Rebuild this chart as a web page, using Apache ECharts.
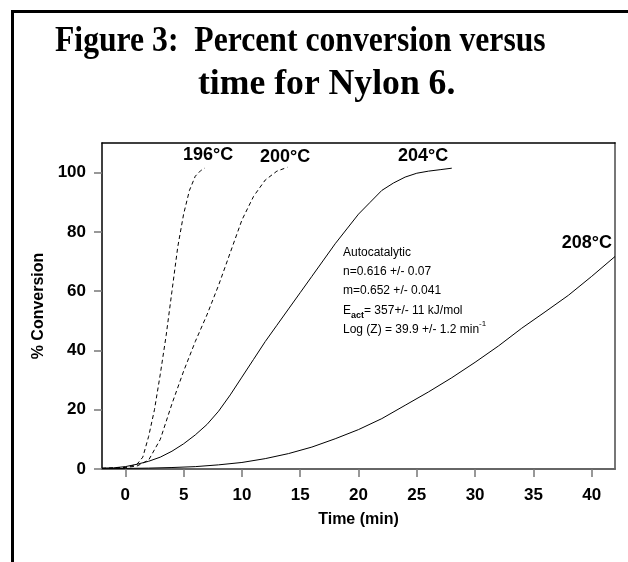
<!DOCTYPE html>
<html><head><meta charset="utf-8">
<script src="https://cdn.jsdelivr.net/npm/echarts@6/dist/echarts.min.js"></script>
<style>html,body{margin:0;padding:0;background:#fff}#c{width:628px;height:562px}</style>
</head><body><div id="c"></div>
<script>
// Data: time (min) and % conversion
var t196 = [-2, -1, 0, 0.5, 1, 1.5, 2, 2.5, 3, 3.5, 4, 4.5, 5, 5.5, 6, 6.5, 6.8];
var v196 = [0.2, 0.3, 0.6, 1.0, 1.6, 4, 11, 20, 32, 45, 60, 75, 86, 94, 98.8, 100.8, 101.5];
var t200 = [-2, 0, 1, 2, 3, 4, 5, 6, 7, 8, 9, 10, 11, 12, 13, 13.9];
var v200 = [0.2, 0.5, 1.0, 3, 10, 22, 33, 43, 52, 62, 73, 84, 92, 97.5, 100.5, 101.8];
var t204 = [-2, -1, 0, 1, 2, 3, 4, 5, 6, 7, 8, 9, 10, 11, 12, 13, 14, 15, 16, 17, 18, 19, 20, 21, 22, 23, 24, 25, 26, 27, 28];
var v204 = [0.3, 0.4, 0.8, 1.6, 2.6, 4, 6, 8.5, 11.5, 15, 19.5, 25, 31, 37, 43, 48.5, 54, 59.5, 65, 70.5, 76, 81, 86, 90, 94, 96.5, 98.5, 99.8, 100.5, 101, 101.5];
var t208 = [-2, 0, 2, 4, 6, 8, 10, 12, 14, 16, 18, 20, 22, 24, 26, 28, 30, 32, 34, 36, 38, 40, 42];
var v208 = [0.1, 0.2, 0.3, 0.5, 0.8, 1.4, 2.2, 3.5, 5.2, 7.4, 10.2, 13.3, 17, 21.5, 26, 30.8, 36, 41.5, 47.5, 53, 58.6, 65, 71.7];
var seriesNames = ['196°C', '200°C', '204°C', '208°C'];
var xTicks = [0, 5, 10, 15, 20, 25, 30, 35, 40];
var yTicks = [0, 20, 40, 60, 80, 100];
var titleLines = ['Figure 3:  Percent conversion versus', 'time for Nylon 6.'];
var xName = 'Time (min)';
var yName = '% Conversion';

function pairs(t, v) { return t.map(function (x, i) { return [x, v[i]]; }); }
var SANS = '"Liberation Sans", Arial, sans-serif';
var SERIF = '"Liberation Serif", "Times New Roman", serif';

var chart = echarts.init(document.getElementById('c'), null, {renderer: 'canvas'});

function lineSeries(name, t, v, dashed) {
  return {
    name: name, type: 'line', data: pairs(t, v), showSymbol: false, smooth: false,
    lineStyle: {color: '#000', width: 1, type: dashed ? [4, 3] : 'solid'},
    clip: true, silent: true
  };
}

var labelFont = 'bold 18px ' + SANS;

chart.setOption({
  backgroundColor: '#fff',
  animation: false,
  grid: {left: 102, right: 13, top: 143, bottom: 93, containLabel: false, outerBoundsMode: 'none'},
  xAxis: [{
    type: 'value', min: -2, max: 42, position: 'bottom',
    name: xName, nameLocation: 'middle', nameGap: 43,
    nameTextStyle: {fontFamily: SANS, fontWeight: 'bold', fontSize: 16, color: '#000'},
    axisLine: {show: true, onZero: false, lineStyle: {color: '#666', width: 2}},
    axisTick: {show: true, length: 8, lineStyle: {color: '#777', width: 1.5}, customValues: xTicks},
    axisLabel: {margin: 18, fontFamily: SANS, fontWeight: 'bold', fontSize: 17, color: '#000', customValues: xTicks},
    splitLine: {show: false}
  }, {
    type: 'value', min: -2, max: 42, position: 'top',
    axisLine: {show: true, onZero: false, lineStyle: {color: '#000', width: 1.5}},
    axisTick: {show: false}, axisLabel: {show: false}, splitLine: {show: false}
  }],
  yAxis: [{
    type: 'value', min: 0, max: 110, position: 'left',
    name: yName, nameLocation: 'middle', nameGap: 52, nameRotate: 90,
    nameTextStyle: {fontFamily: SANS, fontWeight: 'bold', fontSize: 16, color: '#000'},
    axisLine: {show: true, onZero: false, lineStyle: {color: '#000', width: 1.5}},
    axisTick: {show: true, length: 8, lineStyle: {color: '#777', width: 1.5}, customValues: yTicks},
    axisLabel: {margin: 16, fontFamily: SANS, fontWeight: 'bold', fontSize: 17, color: '#000', customValues: yTicks},
    splitLine: {show: false}
  }, {
    type: 'value', min: 0, max: 110, position: 'right',
    axisLine: {show: true, onZero: false, lineStyle: {color: '#777', width: 2}},
    axisTick: {show: false}, axisLabel: {show: false}, splitLine: {show: false}
  }],
  series: [
    lineSeries(seriesNames[0], t196, v196, true),
    lineSeries(seriesNames[1], t200, v200, true),
    lineSeries(seriesNames[2], t204, v204, false),
    lineSeries(seriesNames[3], t208, v208, false)
  ],
  graphic: [
    {type: 'rect', shape: {x: 12.5, y: 11.5, width: 800, height: 800}, style: {fill: 'none', stroke: '#000', lineWidth: 3}, silent: true},
    {type: 'text', x: 55, y: 42, originX: 0, scaleX: 0.88, style: {text: titleLines[0], font: 'bold 36px ' + SERIF, fill: '#000', textAlign: 'left', textVerticalAlign: 'middle'}},
    {type: 'text', x: 198, y: 85, originX: 0, scaleX: 0.99, style: {text: titleLines[1], font: 'bold 36px ' + SERIF, fill: '#000', textAlign: 'left', textVerticalAlign: 'middle'}},
    {type: 'text', x: 183, y: 155, style: {text: seriesNames[0], font: labelFont, fill: '#000', textAlign: 'left', textVerticalAlign: 'middle'}},
    {type: 'text', x: 260, y: 157, style: {text: seriesNames[1], font: labelFont, fill: '#000', textAlign: 'left', textVerticalAlign: 'middle'}},
    {type: 'text', x: 398, y: 156, style: {text: seriesNames[2], font: labelFont, fill: '#000', textAlign: 'left', textVerticalAlign: 'middle'}},
    {type: 'text', x: 612, y: 243, style: {text: seriesNames[3], font: labelFont, fill: '#000', textAlign: 'right', textVerticalAlign: 'middle'}},
    {type: 'text', x: 343, y: 243, style: {
      text: 'Autocatalytic\nn=0.616 +/- 0.07\nm=0.652 +/- 0.041\nE{sub|act}= 357+/- 11 kJ/mol\nLog (Z) = 39.9 +/- 1.2 min{sup|-1}',
      font: '12px ' + SANS, fill: '#000', lineHeight: 19.2, textAlign: 'left', textVerticalAlign: 'top',
      rich: {
        sub: {fontFamily: SANS, fontSize: 9, fontWeight: 'bold', verticalAlign: 'bottom', padding: [6, 0, 0, 0], lineHeight: 19.2},
        sup: {fontFamily: SANS, fontSize: 8, verticalAlign: 'top', padding: [0, 0, 6, 0], lineHeight: 19.2}
      }
    }}
  ]
});
</script>
</body></html>
